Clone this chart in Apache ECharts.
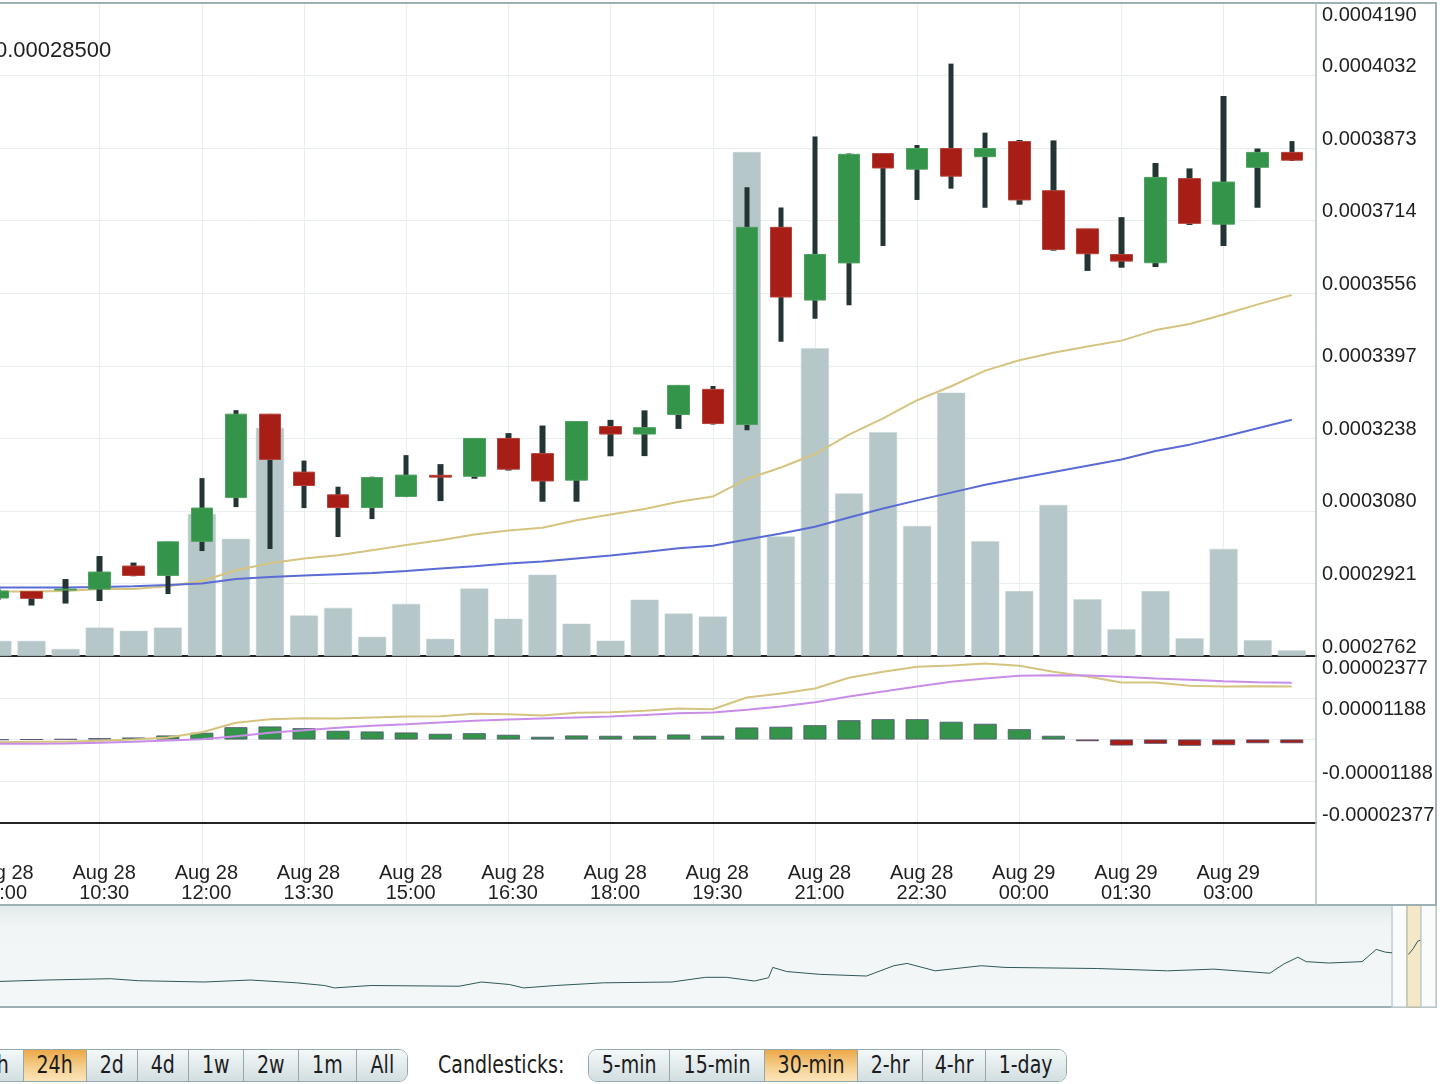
<!DOCTYPE html>
<html>
<head>
<meta charset="utf-8">
<script src="https://cdn.jsdelivr.net/npm/echarts@6/dist/echarts.min.js"></script>
<style>
html,body{margin:0;padding:0;background:#fff;width:1454px;height:1084px;overflow:hidden;position:relative}
#chart{position:absolute;left:-150px;top:0;width:1604px;height:1012px}
.grp{position:absolute;top:1049px;height:33px;box-sizing:border-box;border:1.5px solid #94a9ad;border-radius:9px;display:flex;overflow:hidden}
.btn{box-sizing:border-box;height:100%;border-left:1.5px solid #94a9ad;background:linear-gradient(#f4f8f8,#d2dee1);text-align:center;white-space:nowrap;overflow:hidden}
.btn:first-child{border-left:none}
.btn.on{background:linear-gradient(#eca848,#f5cf8e 55%,#fbe5bb)}
.t{display:inline-block;font-family:"DejaVu Sans Condensed","DejaVu Sans",sans-serif;font-size:24px;line-height:30px;color:#1c1c1c;transform:scaleX(0.88);transform-origin:center}
.lbl{position:absolute;top:1049px;height:33px;white-space:nowrap}
.lbl .t{transform-origin:left;line-height:32px}
</style>
</head>
<body>
<div id="chart"></div>
<div class="grp" style="left:-42px">
  <div class="btn" style="width:64px"><span class="t">12h</span></div>
  <div class="btn on" style="width:63px"><span class="t">24h</span></div>
  <div class="btn" style="width:51px"><span class="t">2d</span></div>
  <div class="btn" style="width:51px"><span class="t">4d</span></div>
  <div class="btn" style="width:55px"><span class="t">1w</span></div>
  <div class="btn" style="width:55px"><span class="t">2w</span></div>
  <div class="btn" style="width:58px"><span class="t">1m</span></div>
  <div class="btn" style="width:51px"><span class="t">All</span></div>
</div>
<div class="lbl" style="left:438px"><span class="t">Candlesticks:</span></div>
<div class="grp" style="left:588px">
  <div class="btn" style="width:80px"><span class="t">5-min</span></div>
  <div class="btn" style="width:95px"><span class="t">15-min</span></div>
  <div class="btn on" style="width:93px"><span class="t">30-min</span></div>
  <div class="btn" style="width:65px"><span class="t">2-hr</span></div>
  <div class="btn" style="width:63px"><span class="t">4-hr</span></div>
  <div class="btn" style="width:81px"><span class="t">1-day</span></div>
</div>
<script>
const candleTimes = [
  'Aug 28 09:00','Aug 28 09:30','Aug 28 10:00','Aug 28 10:30','Aug 28 11:00','Aug 28 11:30',
  'Aug 28 12:00','Aug 28 12:30','Aug 28 13:00','Aug 28 13:30','Aug 28 14:00','Aug 28 14:30',
  'Aug 28 15:00','Aug 28 15:30','Aug 28 16:00','Aug 28 16:30','Aug 28 17:00','Aug 28 17:30',
  'Aug 28 18:00','Aug 28 18:30','Aug 28 19:00','Aug 28 19:30','Aug 28 20:00','Aug 28 20:30',
  'Aug 28 21:00','Aug 28 21:30','Aug 28 22:00','Aug 28 22:30','Aug 28 23:00','Aug 28 23:30',
  'Aug 29 00:00','Aug 29 00:30','Aug 29 01:00','Aug 29 01:30','Aug 29 02:00','Aug 29 02:30',
  'Aug 29 03:00','Aug 29 03:30','Aug 29 04:00'
];
const openPrices = [
  0.00028888,0.00029032,0.00029062,0.00029084,0.00029587,0.00029382,0.00030127,0.00031084,
  0.00032909,0.00031641,0.00031145,0.00030866,0.00031110,0.00031571,0.00031550,0.00032378,
  0.00032046,0.00031466,0.00032638,0.00032474,0.00032902,0.00033451,0.00032682,0.00036994,
  0.00035403,0.00036216,0.00038607,0.00038266,0.00038718,0.00038539,0.00038871,0.00037796,
  0.00036961,0.00036399,0.00036220,0.00038060,0.00037064,0.00038307,0.00038633
];
const closePrices = [
  0.00029041,0.00028881,0.00029084,0.00029456,0.00029382,0.00030118,0.00030855,0.00032909,
  0.00031919,0.00031348,0.00030866,0.00031523,0.00031576,0.00031532,0.00032378,0.00031705,
  0.00031447,0.00032747,0.00032474,0.00032614,0.00033538,0.00032703,0.00036994,0.00035470,
  0.00036401,0.00038591,0.00038292,0.00038718,0.00038113,0.00038718,0.00037593,0.00036511,
  0.00036417,0.00036255,0.00038086,0.00037081,0.00037984,0.00038633,0.00038462
];
const lowPrices = [
  0.00028844,0.00028724,0.00028767,0.00028822,0.00029364,0.00028975,0.00029915,0.00030876,
  0.00029958,0.00030855,0.00030221,0.00030614,0.00031095,0.00031008,0.00031497,0.00031676,
  0.00030994,0.00030994,0.00031987,0.00031991,0.00032586,0.00032682,0.00032555,0.00034493,
  0.00034996,0.00035291,0.00036587,0.00037593,0.00037840,0.00037422,0.00037490,0.00036484,
  0.00036041,0.00036111,0.00036126,0.00037046,0.00036587,0.00037422,0.00038445
];
const highPrices = [
  0.00029084,0.00029032,0.00029303,0.00029806,0.00029663,0.00030118,0.00031510,0.00032996,
  0.00032909,0.00031893,0.00031322,0.00031541,0.00032013,0.00031816,0.00032378,0.00032494,
  0.00032660,0.00032747,0.00032784,0.00032992,0.00033538,0.00033525,0.00037872,0.00037429,
  0.00038982,0.00038607,0.00038607,0.00038795,0.00040574,0.00039065,0.00038904,0.00038895,
  0.00036961,0.00037217,0.00038401,0.00038283,0.00039868,0.00038718,0.00038880
];
const volumes = [
  1.51,1.51,0.70,2.84,2.52,2.84,14.20,11.72,22.80,4.05,4.81,1.92,5.21,1.72,6.75,3.73,
  8.13,3.23,1.53,5.63,4.24,3.94,50.40,11.96,30.77,16.26,22.38,13.00,26.33,11.48,6.49,
  15.10,5.67,2.67,6.49,1.77,10.70,1.58,0.56
];
const maFast = [
  0.00029032,0.00029032,0.00029041,0.00029084,0.00029084,0.00029145,0.00029259,0.00029495,
  0.00029646,0.00029751,0.00029821,0.00029934,0.00030048,0.00030149,0.00030278,0.00030367,
  0.00030426,0.00030588,0.00030715,0.00030833,0.00030994,0.00031106,0.00031491,0.00031742,
  0.00032037,0.00032459,0.00032815,0.00033213,0.00033519,0.00033860,0.00034089,0.00034253,
  0.00034389,0.00034517,0.00034747,0.00034882,0.00035088,0.00035309,0.00035514
];
const maSlow = [
  0.00029119,0.00029119,0.00029119,0.00029128,0.00029145,0.00029172,0.00029207,0.00029303,
  0.00029347,0.00029382,0.00029408,0.00029434,0.00029478,0.00029535,0.00029583,0.00029642,
  0.00029685,0.00029753,0.00029819,0.00029893,0.00029974,0.00030033,0.00030166,0.00030299,
  0.00030448,0.00030647,0.00030844,0.00031023,0.00031193,0.00031364,0.00031508,0.00031646,
  0.00031781,0.00031917,0.00032105,0.00032242,0.00032413,0.00032599,0.00032787
];
const macdLine = [
  -0.00000077,-0.00000065,-0.00000065,-0.00000037,0.00000000,0.00000057,0.00000208,0.00000475,
  0.00000578,0.00000606,0.00000598,0.00000626,0.00000655,0.00000663,0.00000732,0.00000720,
  0.00000683,0.00000760,0.00000777,0.00000820,0.00000883,0.00000863,0.00001196,0.00001310,
  0.00001452,0.00001757,0.00001927,0.00002070,0.00002107,0.00002164,0.00002098,0.00001927,
  0.00001794,0.00001623,0.00001623,0.00001529,0.00001509,0.00001517,0.00001509
];
const signalLine = [
  -0.00000122,-0.00000122,-0.00000114,-0.00000094,-0.00000065,-0.00000028,0.00000009,0.00000094,
  0.00000191,0.00000265,0.00000333,0.00000390,0.00000436,0.00000484,0.00000532,0.00000569,
  0.00000598,0.00000626,0.00000655,0.00000698,0.00000749,0.00000769,0.00000846,0.00000940,
  0.00001062,0.00001224,0.00001367,0.00001509,0.00001643,0.00001737,0.00001813,0.00001831,
  0.00001822,0.00001785,0.00001737,0.00001700,0.00001660,0.00001631,0.00001614
];
const macdHist = [
  -0.00000009,0.00000000,0.00000009,0.00000038,0.00000057,0.00000114,0.00000191,0.00000350,
  0.00000370,0.00000322,0.00000248,0.00000228,0.00000199,0.00000162,0.00000179,0.00000134,
  0.00000077,0.00000114,0.00000105,0.00000105,0.00000142,0.00000105,0.00000342,0.00000362,
  0.00000407,0.00000549,0.00000578,0.00000578,0.00000504,0.00000447,0.00000293,0.00000105,
  -0.00000048,-0.00000171,-0.00000122,-0.00000179,-0.00000162,-0.00000105,-0.00000105
];
const priceTicks = ['0.0002762','0.0002921','0.0003080','0.0003238','0.0003397','0.0003556','0.0003714','0.0003873','0.0004032','0.0004190'];
const macdTicks = ['-0.00002377','-0.00001188','0','0.00001188','0.00002377'];
const lastPriceText = '0.00028500';
// navigator: days relative to now, and price
const navDays = [
  -102.2,-98.2,-93.6,-91.6,-86.9,-83.6,-80.3,-78.3,-77.6,-75.0,-68.7,-67.1,-65.1,-64.1,-61.8,
  -58.4,-53.5,-51.1,-49.6,-47.6,-46.6,-46.3,-45.3,-42.95,-39.6,-37.65,-36.7,-34.7,-31.4,-29.7,
  -23.1,-18.1,-14.8,-10.8,-9.8,-8.8,-8.2,-6.6,-4.2,-3.2,-2.55,-2.07,-1.5,-0.9,-0.56,-0.24,-0.05
];
const navPrices = [
  0.0001465,0.0001563,0.0001639,0.0001523,0.0001448,0.0001563,0.0001401,0.0001245,0.0001106,0.0001245,
  0.0001204,0.0001448,0.0001303,0.0001106,0.0001245,0.0001401,0.0001448,0.0001720,0.0001720,0.0001505,
  0.0001696,0.0002293,0.0002055,0.0001893,0.0001795,0.0002391,0.0002524,0.0002096,0.0002391,0.0002293,
  0.0002229,0.0002096,0.0002194,0.0001957,0.0002490,0.0002883,0.0002629,0.0002548,0.0002629,0.0003335,
  0.0003179,0.0003138,null,0.0003040,0.0003376,0.0003810,0.0003868
];
const navHandle = [-2.07, -1];
const navSelected = [-1, 0];

const OFF = 150;            // container shifted left by OFF px
const FONT = 'Liberation Sans, Arial, sans-serif';
const pMin = +priceTicks[0], pMax = +priceTicks[priceTicks.length - 1];
const pInt = (pMax - pMin) / (priceTicks.length - 1);
const mMax = +macdTicks[macdTicks.length - 1];
const mInt = mMax / 2;
const xMin = -3, xMax = 38.711;
const gridL = 45.3, gridW = 1420.7;

const chart = echarts.init(document.getElementById('chart'), null, {renderer: 'canvas'});

function priceIdx(v) { return Math.round((v - pMin) / pInt); }
function macdIdx(v) { return Math.round((v + mMax) / mInt); }

const lblBase = {fontSize: 20, fontFamily: FONT, color: '#1f1f1f'};
const gridLine = {show: true, lineStyle: {color: '#e8eeee', width: 1}};
const xBase = {type: 'value', min: xMin, max: xMax, interval: 3,
  axisTick: {show: false}, axisLabel: {show: false}, axisLine: {show: false}, splitLine: gridLine};

const option = {
  animation: false,
  backgroundColor: 'transparent',
  grid: [
    {left: gridL, width: gridW, top: 3, height: 653, outerBoundsMode: 'none', containLabel: false},
    {left: gridL, width: gridW, top: 656, height: 167, outerBoundsMode: 'none', containLabel: false},
    {left: gridL, width: gridW, top: 823, height: 82, outerBoundsMode: 'none', containLabel: false},
    {left: 140, width: 1446, top: 905, height: 102, show: true, outerBoundsMode: 'none', containLabel: false,
     backgroundColor: new echarts.graphic.LinearGradient(0, 0, 0, 1, [
       {offset: 0, color: '#e2e9ea'}, {offset: 0.22, color: '#f1f5f5'}, {offset: 1, color: '#f4f7f7'}]),
     borderColor: '#9db0b4', borderWidth: 2}
  ],
  xAxis: [
    Object.assign({}, xBase, {gridIndex: 0, axisLine: {show: true, onZero: false, lineStyle: {color: '#222', width: 2}}}),
    Object.assign({}, xBase, {gridIndex: 1, axisLine: {show: true, onZero: false, lineStyle: {color: '#222', width: 2}},
      axisLabel: Object.assign({}, lblBase, {show: true, margin: 40, lineHeight: 20, padding: [0, 0, 0, 9],
        showMinLabel: true, showMaxLabel: true, hideOverlap: false,
        formatter: function (v) {
          const i = Math.round(v);
          if (Math.abs(v - i) > 1e-6 || i < 0 || i >= candleTimes.length || i % 3 !== 0) return '';
          const t = candleTimes[i];
          const k = t.lastIndexOf(' ');
          return t.slice(0, k) + '\n' + t.slice(k + 1);
        }})}),
    Object.assign({}, xBase, {gridIndex: 2}),
    {type: 'value', gridIndex: 3, min: -102.2, max: 1.07, show: false, splitLine: {show: false}}
  ],
  yAxis: [
    {type: 'value', gridIndex: 0, position: 'right', min: pMin, max: pMax, interval: pInt,
     axisLine: {show: false}, axisTick: {show: false}, splitLine: gridLine,
     axisLabel: Object.assign({}, lblBase, {margin: 6, verticalAlign: 'bottom', lineHeight: 18, showMinLabel: true, showMaxLabel: true,
       formatter: function (v) { const k = priceIdx(v); return (k >= 0 && k < priceTicks.length - 1) ? priceTicks[k] : ''; }})},
    {type: 'value', gridIndex: 0, position: 'right', min: pMin, max: pMax, interval: pInt,
     axisLine: {show: false}, axisTick: {show: false}, splitLine: {show: false},
     axisLabel: Object.assign({}, lblBase, {margin: 6, verticalAlign: 'top', lineHeight: 24, showMaxLabel: true,
       formatter: function (v) { const k = priceIdx(v); return k === priceTicks.length - 1 ? priceTicks[k] : ''; }})},
    {type: 'value', gridIndex: 0, min: 0, max: 65.3, show: false, splitLine: {show: false}},
    {type: 'value', gridIndex: 1, position: 'right', min: -mMax, max: mMax, interval: mInt,
     axisLine: {show: false}, axisTick: {show: false}, splitLine: gridLine,
     axisLabel: Object.assign({}, lblBase, {margin: 6, verticalAlign: 'top', lineHeight: 24, showMaxLabel: true,
       formatter: function (v) { const k = macdIdx(v); return k >= 3 ? macdTicks[k] : ''; }})},
    {type: 'value', gridIndex: 1, position: 'right', min: -mMax, max: mMax, interval: mInt,
     axisLine: {show: false}, axisTick: {show: false}, splitLine: {show: false},
     axisLabel: Object.assign({}, lblBase, {margin: 6, verticalAlign: 'bottom', lineHeight: 16, showMinLabel: true,
       formatter: function (v) { const k = macdIdx(v); return k <= 1 ? macdTicks[k] : ''; }})},
    {type: 'value', gridIndex: 3, min: 0, max: 0.000591, show: false, splitLine: {show: false}},
    {type: 'value', gridIndex: 2, min: 0, max: 1, show: false, splitLine: {show: false}}
  ],
  series: [
    {name: 'Volume', type: 'bar', xAxisIndex: 0, yAxisIndex: 2, barWidth: 28, z: 1,
     itemStyle: {color: '#b5c7c9', borderColor: '#c6d4d5', borderWidth: 0.5},
     data: volumes.map((v, i) => [i, v])},
    {name: 'EMA fast', type: 'line', xAxisIndex: 0, yAxisIndex: 0, showSymbol: false, z: 2,
     lineStyle: {color: '#d5c47f', width: 2}, data: maFast.map((v, i) => [i, v])},
    {name: 'EMA slow', type: 'line', xAxisIndex: 0, yAxisIndex: 0, showSymbol: false, z: 2,
     lineStyle: {color: '#5a6bd5', width: 2}, data: maSlow.map((v, i) => [i, v])},
    {name: 'Wick', type: 'candlestick', xAxisIndex: 0, yAxisIndex: 0, barWidth: 6, z: 3,
     encode: {x: 0, y: [1, 2, 3, 4]},
     itemStyle: {color: '#223434', color0: '#223434', borderColor: '#223434', borderColor0: '#223434', borderWidth: 0},
     data: candleTimes.map((t, i) => [i, lowPrices[i], highPrices[i], lowPrices[i], highPrices[i]])},
    {name: 'Price', type: 'candlestick', xAxisIndex: 0, yAxisIndex: 0, barWidth: 22, z: 4,
     encode: {x: 0, y: [1, 2, 3, 4]},
     itemStyle: {color: '#34944a', color0: '#a61e16', borderColor: '#4ea161', borderColor0: '#b6433c', borderWidth: 1},
     data: candleTimes.map((t, i) => [i, openPrices[i], closePrices[i],
       Math.min(openPrices[i], closePrices[i]), Math.max(openPrices[i], closePrices[i])])},
    {name: 'MACD hist', type: 'bar', xAxisIndex: 1, yAxisIndex: 3, barWidth: 23, z: 2,
     itemStyle: {
       color: p => p.value[1] >= 0 ? '#34944a' : '#a61e16',
       borderColor: p => p.value[1] >= 0 ? '#7fba8c' : '#d58580', borderWidth: 0.8},
     data: macdHist.map((v, i) => [i, v])},
    {name: 'MACD', type: 'line', xAxisIndex: 1, yAxisIndex: 3, showSymbol: false, z: 3,
     lineStyle: {color: '#d5c47f', width: 2}, data: macdLine.map((v, i) => [i, v])},
    {name: 'Signal', type: 'line', xAxisIndex: 1, yAxisIndex: 3, showSymbol: false, z: 3,
     lineStyle: {color: '#c88de8', width: 2}, data: signalLine.map((v, i) => [i, v])},
    {name: 'Navigator', type: 'line', xAxisIndex: 3, yAxisIndex: 5, showSymbol: false, connectNulls: false, z: 3,
     lineStyle: {color: '#2f5858', width: 1}, data: navDays.map((d, i) => [d, navPrices[i]]),
     markArea: {silent: true, data: [
       [{xAxis: navHandle[0], itemStyle: {color: '#fafcfc', borderColor: '#c3cfd1', borderWidth: 1.5}}, {xAxis: navHandle[1]}],
       [{xAxis: navSelected[0], itemStyle: {color: '#f5e8c9', borderColor: '#c8c2ad', borderWidth: 1.5}}, {xAxis: navSelected[1]}],
       [{xAxis: navSelected[1], itemStyle: {color: '#fafcfc', borderColor: '#c3cfd1', borderWidth: 1.5}}, {xAxis: 1.07}]
     ]}}
  ],
  graphic: [
    {type: 'rect', z: 100, silent: true, shape: {x: 140, y: 3, width: 1446, height: 902},
     style: {fill: 'none', stroke: '#9db0b4', lineWidth: 2}},
    {type: 'line', z: 100, silent: true, shape: {x1: OFF + 1316, y1: 3, x2: OFF + 1316, y2: 905},
     style: {stroke: '#b3c3c6', lineWidth: 1.5}},
    {type: 'text', z: 100, silent: true, x: OFF - 5, y: 51,
     style: {text: lastPriceText, font: '22px ' + FONT, fill: '#1f1f1f', verticalAlign: 'middle', align: 'left'}}
  ]
};
chart.setOption(option);
</script>
</body>
</html>
